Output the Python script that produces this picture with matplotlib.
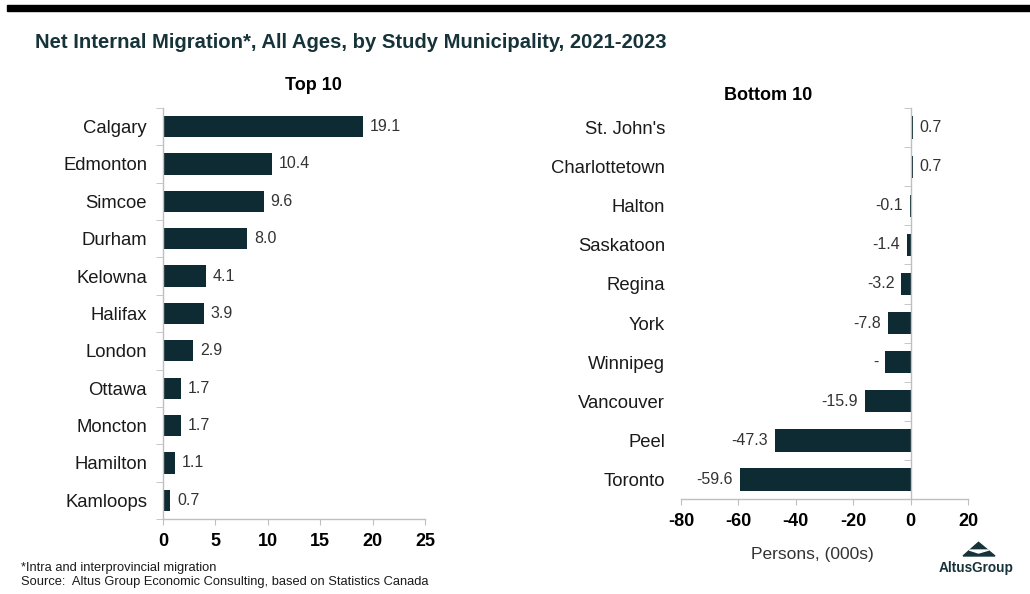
import matplotlib

matplotlib.use("Agg")
import matplotlib.pyplot as plt
from matplotlib.patches import Polygon, Rectangle
from matplotlib.ticker import FixedLocator

plt.rcParams["font.family"] = ["Liberation Sans", "DejaVu Sans"]
plt.rcParams["axes.unicode_minus"] = False

BAR = "#0e2a33"
DARK = "#17333a"
GREY = "#bfbfbf"

top_names = ["Calgary", "Edmonton", "Simcoe", "Durham", "Kelowna", "Halifax",
             "London", "Ottawa", "Moncton", "Hamilton", "Kamloops"]
top_values = [19.1, 10.4, 9.6, 8.0, 4.1, 3.9, 2.9, 1.7, 1.7, 1.1, 0.7]

bottom_names = ["St. John's", "Charlottetown", "Halton", "Saskatoon", "Regina",
                "York", "Winnipeg", "Vancouver", "Peel", "Toronto"]
bottom_values = [0.7, 0.7, -0.1, -1.4, -3.2, -7.8, -8.8, -15.9, -47.3, -59.6]
bottom_labels = ["0.7", "0.7", "-0.1", "-1.4", "-3.2", "-7.8", "-", "-15.9",
                 "-47.3", "-59.6"]

top_xticks = [0, 5, 10, 15, 20, 25]
bottom_xticks = [-80, -60, -40, -20, 0, 20]


def style_axis(ax, names):
    n = len(names)
    ax.set_ylim(n - 0.5, -0.5)
    ax.set_yticks(range(n))
    ax.set_yticklabels(names, fontsize=13.3, color="#1a1a1a")
    ax.yaxis.set_minor_locator(FixedLocator([i - 0.5 for i in range(n + 1)]))
    ax.tick_params(axis="y", which="major", length=0, pad=11.5)
    ax.tick_params(axis="x", which="major", length=4, color=GREY,
                   labelsize=13, pad=6)
    for lbl in ax.get_xticklabels():
        lbl.set_fontweight("bold")
    ax.spines["top"].set_visible(False)
    for s in ax.spines.values():
        s.set_color(GREY)
        s.set_linewidth(1)


def label_bars(ax, values, labels):
    for i, (v, t) in enumerate(zip(values, labels)):
        off, ha = (5, "left") if v >= 0 else (-5, "right")
        ax.annotate(t, (v, i), xytext=(off, 0), textcoords="offset points",
                    ha=ha, va="center", fontsize=11.5, color="#333333")


fig = plt.figure(figsize=(10.3, 5.94), dpi=100)

# top rule
fig.patches.append(Rectangle((0.007, 0.981), 0.993, 0.011, transform=fig.transFigure,
                             color="black", zorder=5))

fig.text(0.034, 0.929, "Net Internal Migration*, All Ages, by Study Municipality, 2021-2023",
         fontsize=14.6, fontweight="bold", color=DARK, ha="left", va="center")

# ---- Top 10
ax1 = fig.add_axes([0.1583, 0.1263, 0.2544, 0.692])
ax1.barh(range(len(top_names)), top_values, height=0.57, color=BAR)
ax1.set_xlim(0, 25)
ax1.set_xticks(top_xticks)
style_axis(ax1, top_names)
ax1.spines["right"].set_visible(False)
ax1.tick_params(axis="y", which="minor", left=True, length=5, color=GREY,
                direction="out")
label_bars(ax1, top_values, [f"{v:.1f}" for v in top_values])
ax1.text(0.573, 1.054, "Top 10", transform=ax1.transAxes, fontsize=13,
         fontweight="bold", ha="center", va="center")

# ---- Bottom 10
ax2 = fig.add_axes([0.6612, 0.1599, 0.2786, 0.6582])
ax2.spines["right"].set_position(("data", 0))
ax2.barh(range(len(bottom_names)), bottom_values, height=0.57, color=BAR)
ax2.set_xlim(-80, 20)
ax2.set_xticks(bottom_xticks)
style_axis(ax2, bottom_names)
ax2.spines["left"].set_visible(False)
ax2.tick_params(axis="y", which="minor", left=False, right=True, length=5,
                color=GREY, direction="in")
label_bars(ax2, bottom_values, bottom_labels)
ax2.text(0.303, 1.033, "Bottom 10", transform=ax2.transAxes, fontsize=13,
         fontweight="bold", ha="center", va="center")
ax2.set_xlabel("Persons, (000s)", fontsize=12.5, color="#333333")
ax2.xaxis.set_label_coords(0.456, -0.122)

# footnotes
fig.text(0.02, 0.044, "*Intra and interprovincial migration", fontsize=9.3,
         color="#1a1a1a", ha="left", va="center")
fig.text(0.02, 0.020, "Source:  Altus Group Economic Consulting, based on Statistics Canada",
         fontsize=9.3, color="#1a1a1a", ha="left", va="center")

# logo
fig.patches.append(Polygon([(0.935, 0.064), (0.950, 0.087), (0.966, 0.064)],
                           closed=True, transform=fig.transFigure, color=DARK))
fig.patches.append(Polygon([(0.941, 0.074), (0.960, 0.074), (0.950, 0.069)],
                           closed=True, transform=fig.transFigure, color="white"))
fig.text(0.948, 0.043, "AltusGroup", fontsize=9.8, fontweight="bold", color=DARK,
         ha="center", va="center")

fig.savefig("out.png", dpi=100)
